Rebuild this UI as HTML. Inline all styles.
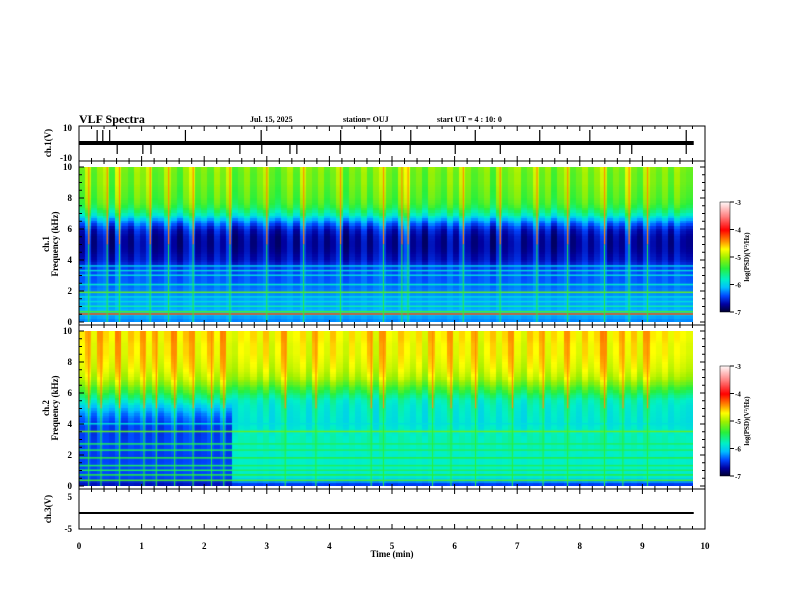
<!DOCTYPE html>
<html><head><meta charset="utf-8"><style>
body{margin:0;background:#fff;width:792px;height:612px;overflow:hidden;position:relative;font-family:"Liberation Serif",serif;}
canvas{position:absolute;}
svg{position:absolute;left:0;top:0;}
text{font-family:"Liberation Serif",serif;font-weight:bold;fill:#000;}
</style></head><body>
<canvas id="s1" width="614" height="155" style="left:79px;top:167px"></canvas>
<canvas id="s2" width="614" height="155" style="left:79px;top:331px"></canvas>
<canvas id="cb1" width="10" height="110" style="left:720px;top:202px"></canvas>
<canvas id="cb2" width="10" height="110" style="left:720px;top:366px"></canvas>
<svg id="ax" width="792" height="612">
<text x="79" y="123" font-size="12">VLF Spectra</text>
<text x="250" y="122" font-size="8">Jul. 15, 2025</text>
<text x="343" y="122" font-size="8">station= OUJ</text>
<text x="437" y="122" font-size="8">start UT =  4 : 10: 0</text>
<text x="392" y="557" font-size="9" text-anchor="middle">Time (min)</text>
</svg>
<script>
const timeMax=10, dataEnd=9.82;
const freqs=[0,0.5,1,1.5,2,2.5,3,3.5,4,4.5,5,5.5,6,6.5,7,7.5,8,8.5,9,9.5,10];
const ch1Base=[-6.3,-6.1,-6.2,-6.2,-6.3,-6.4,-6.45,-6.55,-6.75,-6.85,-6.9,-6.9,-6.8,-6.4,-5.9,-5.6,-5.5,-5.45,-5.4,-5.4,-5.35];
const ch2BasePre=[-6.7,-6.45,-6.45,-6.45,-6.5,-6.5,-6.55,-6.6,-6.6,-6.5,-6.3,-6.0,-5.7,-5.4,-5.2,-5.1,-5.05,-5.0,-5.0,-4.95,-4.95];
const ch2BasePost=[-6.6,-5.9,-5.85,-5.85,-5.85,-5.85,-5.85,-5.95,-6.05,-6.05,-6.05,-6.0,-5.75,-5.45,-5.2,-5.1,-5.05,-5.0,-5.0,-4.95,-4.95];
const ch2Onset=2.5;
const ch1Boost=[0.3,0.9,0.2,0.6,0.8,0.1,1.0,0.4,0.2,0.7,0.5,0.9,0.2,0.3,0.8,0.4,0.1,0.6,1.0,0.3,0.5,0.2,0.7,0.4,0.9,0.1,0.3,0.6,0.2,0.5,0.8,0.3,0.1,0.4,0.7,0.2,0.9,0.5,0.3,0.6,0.2,0.4,0.8,0.1,0.5,0.3,0.7,0.2,0.6,0.9,0.4,0.2,0.8,1.1,0.3,0.5,0.1,0.6,0.4,0.2,0.7,0.3,0.9,0.5,0.2,0.4,0.6,0.1,0.8,0.3,0.5,0.7,0.2,0.4,0.9,0.3,0.6,0.1,0.5,0.8,0.2,0.4,0.7,0.3,0.6,0.9,0.2,0.5,0.3,1.0,0.4,0.2,0.8,0.5,0.3,0.6,0.2,0.7,0.4,0.3];
const ch2Boost=[0.5,0.8,0.3,0.9,0.6,0.4,1.0,0.3,0.7,0.5,0.9,0.4,0.8,0.3,0.6,1.0,0.4,0.7,0.9,0.3,0.5,0.8,0.4,1.0,0.3,0.2,0.5,0.4,0.6,0.3,0.7,0.2,0.5,0.9,0.3,0.4,0.6,0.2,0.8,0.5,0.3,0.7,0.4,0.2,0.6,0.3,0.5,0.8,0.2,0.9,0.4,0.3,0.7,0.5,0.3,0.6,0.2,0.8,0.4,0.5,0.9,0.3,0.6,0.4,0.8,0.2,0.5,0.7,0.3,0.6,0.9,0.4,0.2,0.7,0.5,0.8,0.3,0.6,0.4,0.9,0.5,0.3,0.7,0.4,0.6,1.0,0.3,0.5,0.8,0.4,0.7,0.3,0.9,0.5,0.4,0.6,0.3,0.5,0.4,0.3];
const ch1Lines=[0.5,0.65,1.0,1.3,1.6,1.9,2.4,3.0,3.3,3.6];
const ch1LineVals=[-4.2,-5.3,-5.7,-5.9,-5.9,-5.2,-5.8,-5.9,-5.9,-6.0];
const ch2Lines=[0.35,0.7,1.0,1.3,1.8,2.3,2.7,3.5,4.0];
const ch2LineVals=[-5.3,-5.4,-5.5,-5.5,-5.4,-5.5,-5.5,-5.2,-5.9];
const cbTicks=[-3,-4,-5,-6,-7];
const xTicks=[0,1,2,3,4,5,6,7,8,9,10];
const fTicks=[0,2,4,6,8,10];
const spikeUpT=[0.29,0.38,0.49,1.7,2.91,4.18,4.82,5.3,6.33,7.36,8.16,9.7];
const spikeDnT=[0.61,1.02,1.15,2.57,2.92,3.37,3.48,4.17,4.81,5.29,6.01,6.73,7.68,8.64,8.83,9.7];

const stops=[[-7,[0,0,40]],[-6.7,[0,0,160]],[-6.4,[0,70,255]],[-6.1,[0,190,255]],[-5.8,[0,240,200]],[-5.4,[40,240,60]],[-5.0,[160,240,0]],[-4.7,[255,255,0]],[-4.4,[255,140,0]],[-4.0,[255,0,0]],[-3.5,[255,130,130]],[-3,[255,245,245]]];
function cmap(v){v=Math.max(-7,Math.min(-3,v));for(let i=1;i<stops.length;i++){if(v<=stops[i][0]){const a=stops[i-1],b=stops[i],t=(v-a[0])/(b[0]-a[0]);return 'rgb('+a[1].map((c,k)=>Math.round(c+(b[1][k]-c)*t)).join(',')+')';}}return 'rgb(255,245,245)';}
function interp(arr,f){const i=Math.min(freqs.length-2,Math.floor(f/0.5));const t=(f-freqs[i])/0.5;return arr[i]+(arr[i+1]-arr[i])*t;}
const X=t=>79+t*62.6;
function drawSpec(id,boost,baseFn,lines,lineVals,streakGain){
  const c=document.getElementById(id).getContext('2d');
  const W=614,H=155,nC=boost.length,nR=60;const cw=W/nC,rh=H/nR;
  for(let i=0;i<nC;i++){const t=(i+0.5)*dataEnd/nC;
    for(let j=0;j<nR;j++){const f=10-(j+0.5)*10/nR;
      const g=f>6?1:(f>2?0.2+0.8*(f-2)/4:0.15);
      const v=baseFn(f,t)+boost[i]*streakGain*g;
      c.fillStyle=cmap(v);c.fillRect(Math.floor(i*cw),Math.floor(j*rh),Math.ceil(cw)+1,Math.ceil(rh)+1);}}
  lines.forEach((f,k)=>{c.fillStyle=cmap(lineVals[k]);c.fillRect(0,H-f/10*H-1,W,1.5);});
  for(let i=0;i<nC;i++){if(boost[i]>0.75){c.fillStyle=cmap(-4.4);c.fillRect(i*cw+cw/2,0,1.2,H*0.5);c.fillStyle=cmap(-5.4);c.fillRect(i*cw+cw/2,H*0.5,1,H*0.5);}}
}
drawSpec('s1',ch1Boost,(f,t)=>interp(ch1Base,f),ch1Lines,ch1LineVals,0.6);
drawSpec('s2',ch2Boost,(f,t)=>interp(t<ch2Onset?ch2BasePre:ch2BasePost,f),ch2Lines,ch2LineVals,0.6);
['cb1','cb2'].forEach(id=>{const c=document.getElementById(id).getContext('2d');for(let y=0;y<110;y++){c.fillStyle=cmap(-3-4*y/110);c.fillRect(0,y,10,1);}});

const svg=document.getElementById('ax');const NS='http://www.w3.org/2000/svg';
function el(tag,attrs,parent){const e=document.createElementNS(NS,tag);for(const k in attrs)e.setAttribute(k,attrs[k]);(parent||svg).appendChild(e);return e;}
function txt(x,y,s,size,anchor,name){const e=el('text',{x:x,y:y,'font-size':size,'text-anchor':anchor||'middle'});e.textContent=s;


return e;}
const panels=[[126,161],[161,325],[325,489],[489,529]];
panels.forEach((p,k)=>{const r=el('rect',{x:79,y:p[0],width:626,height:p[1]-p[0],fill:'none',stroke:'#000','stroke-width':1});


  for(let t=0;t<=10.001;t+=0.2){const maj=Math.abs(t-Math.round(t))<0.01;const L=maj?5:3;
    el('line',{x1:X(t),x2:X(t),y1:p[0],y2:p[0]+L,stroke:'#000'});el('line',{x1:X(t),x2:X(t),y1:p[1],y2:p[1]-L,stroke:'#000'});}
});
const wy=143;
const band=el('rect',{x:X(0),y:wy-2,width:X(dataEnd)-X(0),height:4,fill:'#000'});


spikeUpT.forEach(t=>{const l=el('line',{x1:X(t),x2:X(t),y1:wy,y2:130,stroke:'#000','stroke-width':1.2});

});
spikeDnT.forEach(t=>{const l=el('line',{x1:X(t),x2:X(t),y1:wy,y2:154,stroke:'#000','stroke-width':1.2});

});
txt(72,131,'10',9,'end','ch1-ytick-10');txt(72,161,'-10',9,'end','ch1-ytick-neg10');
const l3=el('line',{x1:X(0),x2:X(dataEnd),y1:513,y2:513,stroke:'#000','stroke-width':2});


txt(72,500,'5',9,'end','ch3-ytick-5');txt(72,532,'-5',9,'end','ch3-ytick-neg5');
[[167,322,'ch1'],[331,486,'ch2']].forEach(([top,bot,nm])=>{
  for(let f=0;f<=10;f+=0.5){const y=bot-(bot-top)*f/10;const maj=f%2===0;el('line',{x1:79,x2:79+(maj?5:3),y1:y,y2:y,stroke:'#000'});el('line',{x1:705,x2:705-(maj?5:3),y1:y,y2:y,stroke:'#000'});}
  fTicks.forEach(f=>txt(72,bot-(bot-top)*f/10+3,String(f),9,'end',nm+'-ytick-'+f));
});
xTicks.forEach(t=>txt(X(t),549,String(t),9,'middle','x-tick-'+t));
function vt(x,y,s,name){const e=txt(x,y,s,9,'middle',name);e.setAttribute('transform','rotate(-90 '+x+' '+y+')');}
vt(51,143,'ch.1(V)','ch1-ylabel');
vt(49,244,'ch.1','ch1-spec-ylabel-1');vt(58,244,'Frequency (kHz)','ch1-spec-ylabel-2');
vt(49,408,'ch.2','ch2-spec-ylabel-1');vt(58,408,'Frequency (kHz)','ch2-spec-ylabel-2');
vt(51,509,'ch.3(V)','ch3-ylabel');
[[202,'cb1'],[366,'cb2']].forEach(([top,nm])=>{
  el('rect',{x:720,y:top,width:10,height:110,fill:'none',stroke:'#000','stroke-width':0.5});
  cbTicks.forEach(v=>{const y=top+(-3-v)/4*110;el('line',{x1:730,x2:734,y1:y,y2:y,stroke:'#000'});txt(735,y+3,String(v),7,'start',nm+'-tick-'+v);});
  const e=txt(749,top+55,'log(PSD)(V²/Hz)',7,'middle',nm+'-label');e.setAttribute('transform','rotate(-90 749 '+(top+55)+')');
});
</script>
</body></html>
